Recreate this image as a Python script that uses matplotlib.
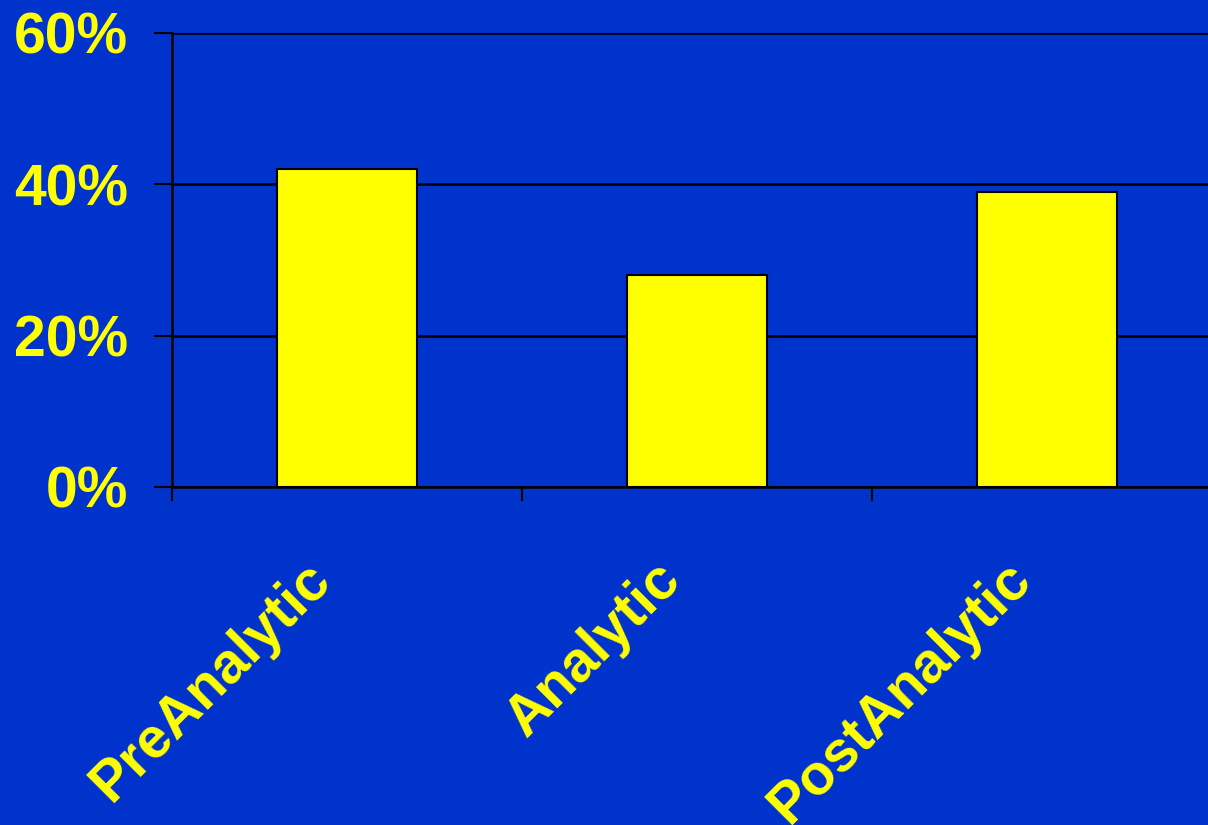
import matplotlib
matplotlib.use("Agg")
import matplotlib.pyplot as plt
from matplotlib.ticker import FuncFormatter
from matplotlib.transforms import ScaledTranslation

categories = ["PreAnalytic", "Analytic", "PostAnalytic"]
values = [42, 28, 39]
yticks = [0, 20, 40, 60]

BG = "#0033CC"
YEL = "#FFFF00"

plt.rcParams['font.family'] = ['Liberation Sans', 'DejaVu Sans']

fig = plt.figure(figsize=(12.08, 8.25), dpi=100, facecolor=BG)
ax = fig.add_axes([172/1208, 1-487/825, 1050/1208, (487-33)/825])
ax.set_facecolor(BG)

x = list(range(len(categories)))
ax.bar(x, values, width=0.4, color=YEL, edgecolor="black", linewidth=1.5, zorder=3)

ax.set_xlim(-0.5, len(categories) - 0.5)
ax.set_ylim(0, 60)
ax.set_yticks(yticks)
ax.yaxis.set_major_formatter(FuncFormatter(lambda v, p: f"{v:.0f}%"))
ax.grid(axis="y", color="black", linewidth=1.8, zorder=1)
ax.set_axisbelow(True)

ax.set_xticks([i - 0.5 for i in x])
ax.set_xticklabels([])
ax.tick_params(axis="x", which="major", length=10, width=1.5, color="black", direction="out")
ax.tick_params(axis="y", length=13, width=1.5, color="black", labelsize=41,
               labelcolor=YEL, pad=18.5)
for lab in ax.get_yticklabels():
    lab.set_fontweight("bold")

off = ScaledTranslation(-0.25, -0.84, fig.dpi_scale_trans)
for i, cat in zip(x, categories):
    ax.text(i, 0, cat, transform=ax.get_xaxis_transform() + off,
            rotation=45, ha="right", va="center", rotation_mode="anchor",
            color=YEL, fontsize=41, fontweight="bold", clip_on=False)

for s in ["top", "right"]:
    ax.spines[s].set_visible(False)
for s in ["left", "bottom"]:
    ax.spines[s].set_color("black")
    ax.spines[s].set_linewidth(1.8)

fig.savefig("out.png", dpi=100, facecolor=BG)
